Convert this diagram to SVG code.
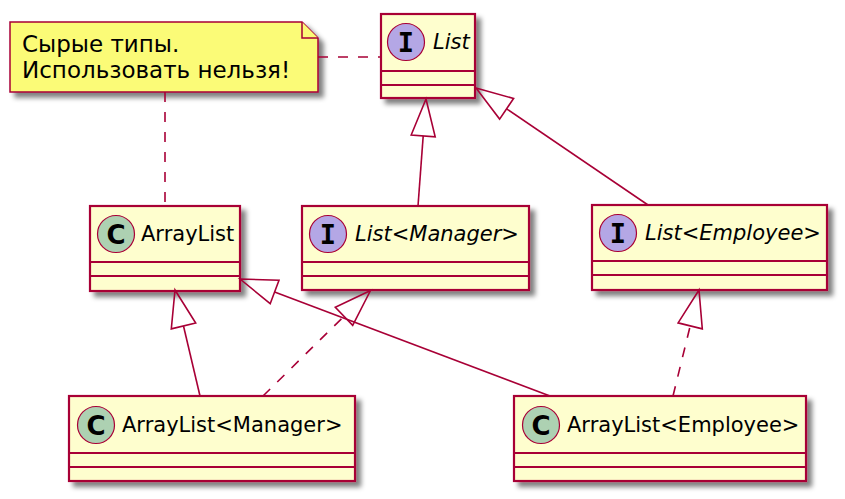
<svg xmlns="http://www.w3.org/2000/svg" width="845" height="499" viewBox="0 0 845 499">
<defs>
<filter id="sh" x="-10%" y="-10%" width="130%" height="140%">
<feGaussianBlur in="SourceAlpha" stdDeviation="2.5"/>
<feOffset dx="5" dy="5" result="b"/>
<feComponentTransfer><feFuncA type="linear" slope="0.5"/></feComponentTransfer>
<feMerge><feMergeNode/><feMergeNode in="SourceGraphic"/></feMerge>
</filter>
<style>
.box{fill:#FEFECE;stroke:#A80036;stroke-width:2.2}
.sep{stroke:#A80036;stroke-width:2.2}
.cc{fill:#ADD1B2;stroke:#A80036;stroke-width:1.2}
.ci{fill:#B4A7E5;stroke:#A80036;stroke-width:1.2}
.glyph{font-family:"DejaVu Sans Mono",monospace;font-weight:bold;font-size:27px;fill:#000;text-anchor:middle}
.gc{font-family:"DejaVu Sans",sans-serif;font-size:26px}
.name{font-family:"DejaVu Sans",sans-serif;font-size:21px;fill:#000}
.it{font-style:italic}
.note{fill:#FBFB77;stroke:#A80036;stroke-width:1.5}
.ntext{font-family:"DejaVu Sans",sans-serif;font-size:23px;fill:#000}
.edge{stroke:#A80036;stroke-width:1.6;fill:none}
.dash{stroke-dasharray:10,10}
.head{fill:none;stroke:#A80036;stroke-width:1.6}
</style>
</defs>
<rect width="845" height="499" fill="#FFFFFF"/>

<g id="note">
<g filter="url(#sh)">
<path class="note" d="M10,22 L302,22 L318,38 L318,92 L10,92 Z"/>
</g>
<path class="note" d="M302,22 L302,38 L318,38"/>
<text class="ntext" x="22" y="52">Сырые типы.</text>
<text class="ntext" x="22" y="78">Использовать нельзя!</text>
</g>

<g id="List">
<rect class="box" x="381" y="14" width="94" height="84" filter="url(#sh)"/>
<line class="sep" x1="381" y1="71" x2="475" y2="71"/>
<line class="sep" x1="381" y1="85" x2="475" y2="85"/>
<circle class="ci" cx="406" cy="42" r="18.5"/>
<text class="glyph" x="406" y="51.5">I</text>
<text class="name it" x="433" y="49">List</text>
</g>

<g id="ArrayList">
<rect class="box" x="90" y="206" width="150" height="85" filter="url(#sh)"/>
<line class="sep" x1="90" y1="262" x2="240" y2="262"/>
<line class="sep" x1="90" y1="276" x2="240" y2="276"/>
<circle class="cc" cx="116" cy="234" r="18.5"/>
<text class="glyph gc" x="116" y="243.5">C</text>
<text class="name" x="141" y="241">ArrayList</text>
</g>

<g id="ListManager">
<rect class="box" x="302" y="206" width="227" height="84" filter="url(#sh)"/>
<line class="sep" x1="302" y1="262" x2="529" y2="262"/>
<line class="sep" x1="302" y1="276" x2="529" y2="276"/>
<circle class="ci" cx="328" cy="234" r="18.5"/>
<text class="glyph" x="328" y="243.5">I</text>
<text class="name it" x="355" y="241">List&lt;Manager&gt;</text>
</g>

<g id="ListEmployee">
<rect class="box" x="592" y="205" width="235" height="85" filter="url(#sh)"/>
<line class="sep" x1="592" y1="261" x2="827" y2="261"/>
<line class="sep" x1="592" y1="275" x2="827" y2="275"/>
<circle class="ci" cx="618" cy="233" r="18.5"/>
<text class="glyph" x="618" y="242.5">I</text>
<text class="name it" x="645" y="240">List&lt;Employee&gt;</text>
</g>

<g id="ArrayListManager">
<rect class="box" x="69" y="396" width="286" height="85" filter="url(#sh)"/>
<line class="sep" x1="69" y1="453" x2="355" y2="453"/>
<line class="sep" x1="69" y1="467" x2="355" y2="467"/>
<circle class="cc" cx="96" cy="425" r="18.5"/>
<text class="glyph gc" x="96" y="434.5">C</text>
<text class="name" x="122" y="432">ArrayList&lt;Manager&gt;</text>
</g>

<g id="ArrayListEmployee">
<rect class="box" x="514" y="396" width="292" height="85" filter="url(#sh)"/>
<line class="sep" x1="514" y1="453" x2="806" y2="453"/>
<line class="sep" x1="514" y1="467" x2="806" y2="467"/>
<circle class="cc" cx="541" cy="425" r="18.5"/>
<text class="glyph gc" x="541" y="434.5">C</text>
<text class="name" x="567" y="432">ArrayList&lt;Employee&gt;</text>
</g>

<g id="connectors">
<line class="edge dash" x1="318" y1="57" x2="381" y2="57"/>
<line class="edge dash" x1="165" y1="92" x2="165" y2="206"/>

<line class="edge" x1="418" y1="206" x2="423.2" y2="135.9"/>
<polygon class="head" points="426,99 435.2,136.8 411.2,135"/>

<line class="edge" x1="648" y1="205" x2="506.6" y2="108.8"/>
<polygon class="head" points="476,88 513.6,98.5 499.6,119.1"/>

<line class="edge" x1="200" y1="396" x2="183.5" y2="326"/>
<polygon class="head" points="175,290 195.7,323.1 171.3,328.9"/>

<line class="edge" x1="550" y1="396" x2="274.6" y2="292"/>
<polygon class="head" points="240,279 279,280.3 270.2,303.7"/>

<line class="edge dash" x1="263" y1="396" x2="344" y2="316.3"/>
<polygon class="head" points="370.5,290.5 352.7,325.3 335.3,307.3"/>

<line class="edge dash" x1="673" y1="396" x2="690.2" y2="325.9"/>
<polygon class="head" points="699,290 702.3,328.9 678.1,322.9"/>
</g>
</svg>
